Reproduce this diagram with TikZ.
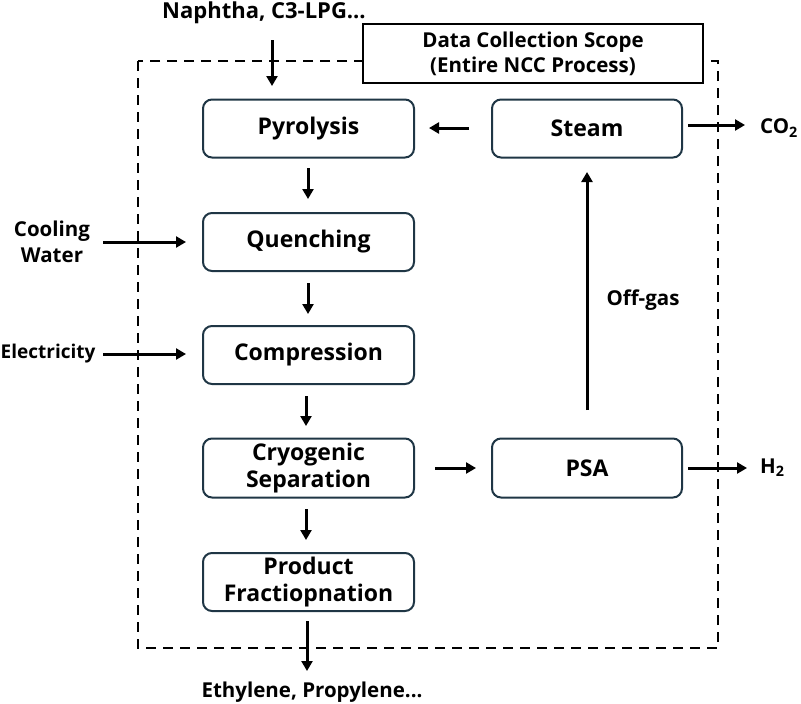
\documentclass[tikz,border=0pt]{standalone}
\usepackage{fontspec}
\setmainfont{Open Sans}
\usetikzlibrary{arrows.meta}
\definecolor{boxline}{HTML}{1F3645}
\begin{document}
\begin{tikzpicture}[x=1pt,y=-1pt,
  proc/.style={draw=boxline,line width=2pt,rounded corners=9pt,fill=white,align=center,inner sep=0pt,font=\bfseries\fontsize{23}{27}\selectfont},
  lbl/.style={align=center,font=\bfseries\fontsize{20.5}{26}\selectfont,inner sep=0pt},
  arr/.style={line width=3pt,-{Triangle[length=10pt,width=11pt]}}]
\useasboundingbox (0,0) rectangle (801,704);
% scope box
\draw[line width=2pt,dash pattern=on 10pt off 7pt] (138,61) rectangle (718,648);
\node[draw=black,line width=2pt,fill=white,minimum width=340pt,minimum height=59pt,inner sep=0pt,align=center,font=\bfseries\fontsize{20.5}{25}\selectfont] (scope) at (533,53.5) {Data Collection Scope\\(Entire NCC Process)};
% process boxes
\node[proc,minimum width=211pt,minimum height=58pt] (pyr) at (308.5,128.5) {Pyrolysis};
\node[proc,minimum width=211pt,minimum height=58pt] (que) at (308.5,242) {Quenching};
\node[proc,minimum width=211pt,minimum height=58pt] (com) at (308.5,355) {Compression};
\node[proc,minimum width=211pt,minimum height=59pt] (cry) at (308.5,468) {Cryogenic\\Separation};
\node[proc,minimum width=211pt,minimum height=58pt] (prd) at (308.5,582) {Product\\Fractiopnation};
\node[proc,minimum width=190pt,minimum height=58pt] (stm) at (587,128.5) {Steam};
\node[proc,minimum width=190pt,minimum height=59pt] (psa) at (587,468) {PSA};
% labels
\node[lbl,font=\bfseries\fontsize{22}{26}\selectfont] (naph) at (264,13) {Naphtha, C3-LPG...};
\node[lbl] (cool) at (52,242) {Cooling\\Water};
\node[lbl,anchor=west,font=\bfseries\fontsize{19}{26}\selectfont] (elec) at (0.5,354) {Electricity};
\node[lbl] (eth) at (312,692) {Ethylene, Propylene...};
\node[lbl,anchor=west] (co2) at (760,128) {CO\textsubscript{2}};
\node[lbl,anchor=west] (h2) at (760,468) {H\textsubscript{2}};
\node[lbl] (off) at (643,300) {Off-gas};
% coordinates
\coordinate (nA) at (272,40);
\coordinate (nB) at (272,86);
\coordinate (cA) at (103,242);
\coordinate (cB) at (186,242);
\coordinate (eA) at (103,354);
\coordinate (eB) at (186,354);
\coordinate (pq1) at (308,168);
\coordinate (pq2) at (308,199);
\coordinate (qc1) at (308,283);
\coordinate (qc2) at (308,314);
\coordinate (cc1) at (306,396);
\coordinate (cc2) at (306,426);
\coordinate (cp1) at (306,509);
\coordinate (cp2) at (306,540);
\coordinate (po1) at (307,621);
\coordinate (po2) at (307,671);
\coordinate (cs1) at (435,468);
\coordinate (cs2) at (476,468);
\coordinate (ps1) at (587,410);
\coordinate (ps2) at (587,172);
\coordinate (sp1) at (469,128);
\coordinate (sp2) at (429,128);
\coordinate (sc1) at (688,125);
\coordinate (sc2) at (745,125);
\coordinate (ph1) at (688,468);
\coordinate (ph2) at (747,468);
% arrows
\draw[arr] (nA) -- (nB);
\draw[arr] (cA) -- (cB);
\draw[arr] (eA) -- (eB);
\draw[arr] (pq1) -- (pq2);
\draw[arr] (qc1) -- (qc2);
\draw[arr] (cc1) -- (cc2);
\draw[arr] (cp1) -- (cp2);
\draw[arr] (po1) -- (po2);
\draw[arr] (cs1) -- (cs2);
\draw[arr] (ps1) -- (ps2);
\draw[arr] (sp1) -- (sp2);
\draw[arr] (sc1) -- (sc2);
\draw[arr] (ph1) -- (ph2);
\end{tikzpicture}
\end{document}
